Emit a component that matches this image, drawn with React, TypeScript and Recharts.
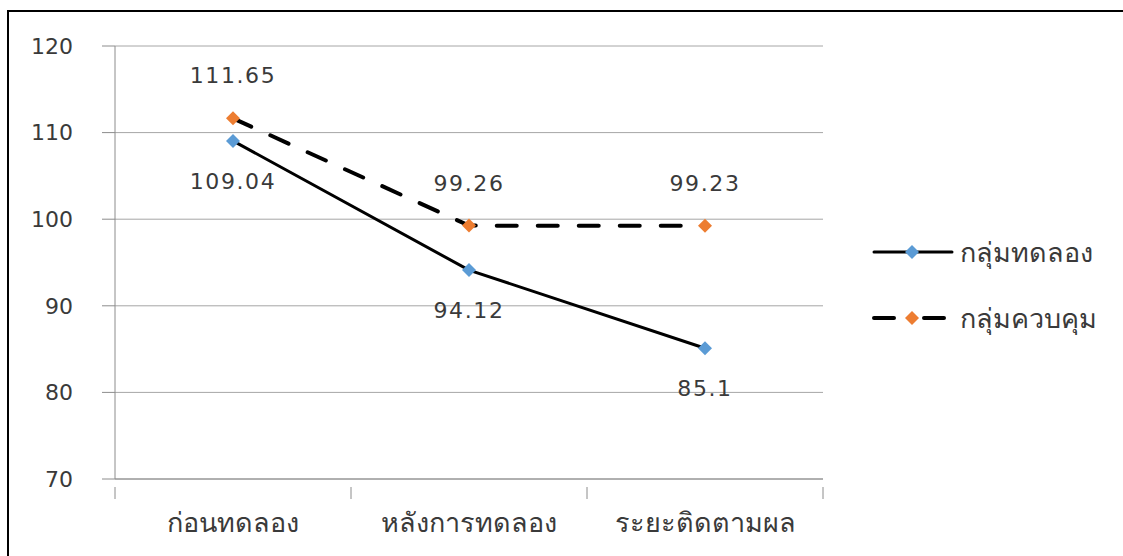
import React from 'react';
import { LineChart, Line, XAxis, YAxis, CartesianGrid, LabelList } from 'recharts';

const phases = ['ก่อนทดลอง', 'หลังการทดลอง', 'ระยะติดตามผล'];
const experimentGroup = [109.04, 94.12, 85.1];
const controlGroup = [111.65, 99.26, 99.23];
const yTicks = [70, 80, 90, 100, 110, 120];

const seriesNames = ['กลุ่มทดลอง', 'กลุ่มควบคุม'];
const BLUE = '#5B9BD5';
const ORANGE = '#ED7D31';
const FONT = '"DejaVu Sans", Tahoma, "Noto Sans", sans-serif';

const data = phases.map((phase, i) => ({
  phase,
  exp: experimentGroup[i],
  ctrl: controlGroup[i],
}));

const Diamond = (color: string) => (props: any) => {
  const { cx, cy } = props;
  if (cx == null || cy == null) return null;
  const r = 7;
  return (
    <path
      d={`M${cx},${cy - r} L${cx + r},${cy} L${cx},${cy + r} L${cx - r},${cy} Z`}
      fill={color}
    />
  );
};

// category labels sit in the middle of each band; tick marks go on the band edges
const CategoryTick = (props: any) => {
  const { x, y, payload, index, visibleTicksCount } = props;
  const half = 118;
  return (
    <g>
      <line x1={x - half} y1={y} x2={x - half} y2={y + 12} stroke="#8c8c8c" />
      {index === visibleTicksCount - 1 && (
        <line x1={x + half} y1={y} x2={x + half} y2={y + 12} stroke="#8c8c8c" />
      )}
      <text x={x} y={y + 45} textAnchor="middle" fontSize={27} fill="#3a3a3a" fontFamily={FONT}>
        {payload.value}
      </text>
    </g>
  );
};

const LegendBox = () => (
  <div style={{ position: 'absolute', left: 872, top: 234, fontFamily: FONT, fontSize: 27, color: '#3a3a3a' }}>
    {seriesNames.map((name, i) => (
      <div key={name} style={{ display: 'flex', alignItems: 'center', height: 36, marginBottom: i === 0 ? 30 : 0 }}>
        <svg width={84} height={20}>
          <line
            x1={2}
            y1={10}
            x2={80}
            y2={10}
            stroke="#000"
            strokeWidth={i === 1 ? 4 : 3}
            strokeLinecap="round"
            strokeDasharray={i === 1 ? '20 30' : undefined}
          />
          <path d="M40,3 L47,10 L40,17 L33,10 Z" fill={i === 0 ? BLUE : ORANGE} />
        </svg>
        <span style={{ marginLeft: 4 }}>{name}</span>
      </div>
    ))}
  </div>
);

export default function App() {
  return (
    <div style={{ position: 'relative', width: 1123, height: 556, overflow: 'hidden', background: '#fff' }}>
      <style>{`body{margin:0}`}</style>
      <div
        style={{
          position: 'absolute',
          left: 7,
          top: 10,
          width: 1130,
          height: 560,
          borderLeft: '2px solid #000',
          borderTop: '2px solid #000',
        }}
      />
      <div style={{ position: 'absolute', left: 0, top: 0 }}>
        <LineChart width={1123} height={556} data={data} margin={{ top: 46, right: 300, bottom: 37, left: 55 }}>
          <CartesianGrid vertical={false} stroke="#a6a6a6" strokeWidth={1} />
          <XAxis
            dataKey="phase"
            height={40}
            padding={{ left: 118, right: 118 }}
            axisLine={{ stroke: '#8c8c8c' }}
            tickLine={false}
            tick={<CategoryTick />}
            interval={0}
          />
          <YAxis
            domain={[70, 120]}
            ticks={yTicks}
            width={60}
            axisLine={{ stroke: '#8c8c8c' }}
            tickLine={{ stroke: '#8c8c8c' }}
            tickSize={13}
            tickMargin={29}
            tick={{ fontSize: 22, fill: '#3a3a3a', fontFamily: FONT }}
          />
          <Line
            type="linear"
            dataKey="exp"
            stroke="#000"
            strokeWidth={3}
            dot={Diamond(BLUE)}
            activeDot={false}
            isAnimationActive={false}
          >
            <LabelList
              dataKey="exp"
              position="bottom"
              offset={32}
              style={{ fontSize: 22, fill: '#3a3a3a', fontFamily: FONT, letterSpacing: 1.6 }}
            />
          </Line>
          <Line
            type="linear"
            dataKey="ctrl"
            stroke="#000"
            strokeWidth={4}
            strokeDasharray="20 21"
            strokeLinecap="round"
            dot={Diamond(ORANGE)}
            activeDot={false}
            isAnimationActive={false}
          >
            <LabelList
              dataKey="ctrl"
              position="top"
              offset={35}
              style={{ fontSize: 22, fill: '#3a3a3a', fontFamily: FONT, letterSpacing: 1.6 }}
            />
          </Line>
        </LineChart>
      </div>
      <LegendBox />
    </div>
  );
}
